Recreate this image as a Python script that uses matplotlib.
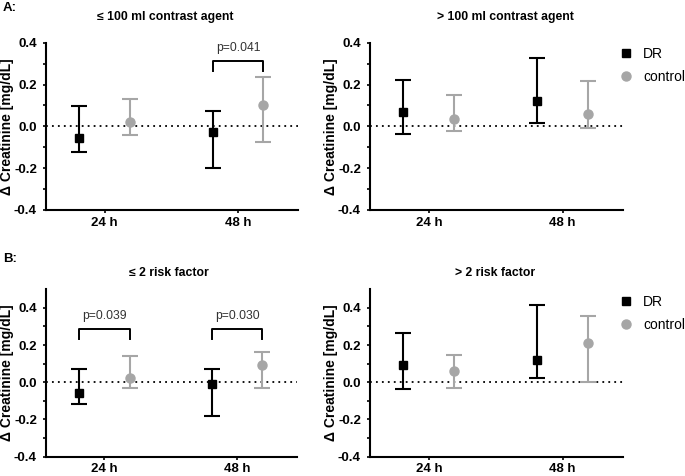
import matplotlib
matplotlib.use("Agg")
import matplotlib.pyplot as plt
from matplotlib.lines import Line2D
import numpy as np

plt.rcParams['font.family'] = ['Liberation Sans', 'DejaVu Sans']

categories = ["24 h", "48 h"]
series_names = ["DR", "control"]

# Panel A left: <= 100 ml contrast agent
a1_dr_mean = [-0.055, -0.025]
a1_dr_low = [-0.125, -0.200]
a1_dr_high = [0.097, 0.075]
a1_ct_mean = [0.020, 0.100]
a1_ct_low = [-0.040, -0.075]
a1_ct_high = [0.130, 0.235]

# Panel A right: > 100 ml contrast agent
a2_dr_mean = [0.070, 0.120]
a2_dr_low = [-0.035, 0.015]
a2_dr_high = [0.220, 0.325]
a2_ct_mean = [0.035, 0.060]
a2_ct_low = [-0.020, -0.010]
a2_ct_high = [0.148, 0.218]

# Panel B left: <= 2 risk factor
b1_dr_mean = [-0.060, -0.010]
b1_dr_low = [-0.120, -0.180]
b1_dr_high = [0.070, 0.070]
b1_ct_mean = [0.020, 0.090]
b1_ct_low = [-0.030, -0.030]
b1_ct_high = [0.140, 0.160]

# Panel B right: > 2 risk factor
b2_dr_mean = [0.090, 0.120]
b2_dr_low = [-0.035, 0.020]
b2_dr_high = [0.265, 0.415]
b2_ct_mean = [0.060, 0.210]
b2_ct_low = [-0.030, 0.000]
b2_ct_high = [0.145, 0.355]

titles = ["\u2264 100 ml contrast agent", "> 100 ml contrast agent",
          "\u2264 2 risk factor", "> 2 risk factor"]
pvals_a1 = [None, "p=0.041"]
pvals_b1 = ["p=0.039", "p=0.030"]

W, H = 685, 476
fig = plt.figure(figsize=(W / 100, H / 100), dpi=100)

def ax_at(x0, x1, ytop, ybot):
    return fig.add_axes([x0 / W, 1 - ybot / H, (x1 - x0) / W, (ybot - ytop) / H])

GRAY = "#a6a6a6"
off = 0.19

def draw(ax, dm, dl, dh, cm, cl, ch, ytop, title, title_cx, title_y, pvals, bracket_y):
    x = np.arange(len(categories))
    dm, dl, dh = map(np.array, (dm, dl, dh))
    cm, cl, ch = map(np.array, (cm, cl, ch))
    ax.axhline(0, color="black", lw=1.3, ls=(0, (1, 2.3)), zorder=1)
    ax.errorbar(x - off, dm, yerr=[dm - dl, dh - dm], fmt="s", color="black",
                ms=6.3, capsize=5.5, elinewidth=1.5, capthick=1.5, zorder=3)
    ax.errorbar(x + off, cm, yerr=[cm - cl, ch - cm], fmt="o", color=GRAY,
                ms=6.5, capsize=5.5, elinewidth=1.5, capthick=1.5, zorder=3)
    ax.set_xlim(-0.44, 1.45)
    ax.set_ylim(-0.4, ytop)
    ax.set_xticks(x)
    ax.set_xticklabels(categories, fontweight="bold", fontsize=9.5)
    ax.set_yticks([-0.4, -0.2, 0.0, 0.2, 0.4])
    ax.set_yticklabels(["-0.4", "-0.2", "0.0", "0.2", "0.4"], fontweight="bold", fontsize=9.5)
    ax.set_yticks(np.arange(-0.3, ytop, 0.2), minor=True)
    ax.tick_params(axis="both", which="major", length=2.5, width=1.2, direction="out", pad=4)
    ax.tick_params(axis="x", which="major", pad=2.5)
    ax.tick_params(axis="y", which="minor", length=2.5, width=1.2, direction="out")
    ax.spines["top"].set_visible(False)
    ax.spines["right"].set_visible(False)
    ax.spines["left"].set_linewidth(1.5)
    ax.spines["bottom"].set_linewidth(1.5)
    fig.text(title_cx / W, 1 - title_y / H, title, fontweight="bold", fontsize=8.8,
             ha="center", va="center")
    if pvals is not None:
        for i, p in enumerate(pvals):
            if p is None:
                continue
            top, leg, ty = bracket_y
            ax.plot([i - off, i - off, i + off, i + off], [leg, top, top, leg],
                    color="black", lw=1.4, zorder=2)
            ax.text(i, ty, p, ha="center", va="center", fontsize=8.7, color="#333333")
    ax.set_ylabel("\u0394 Creatinine [mg/dL]", fontweight="bold", fontsize=10)
    ax.yaxis.label.set_verticalalignment("center")
    bb = ax.get_position()
    ax.yaxis.set_label_coords(-39 / (bb.width * W), 0.5)

ax1 = ax_at(46, 298, 42.7, 210)
ax2 = ax_at(370, 622.7, 42.7, 210)
ax3 = ax_at(46, 297, 289.3, 456.5)
ax4 = ax_at(370, 622.7, 289.3, 456.5)

draw(ax1, a1_dr_mean, a1_dr_low, a1_dr_high, a1_ct_mean, a1_ct_low, a1_ct_high,
     0.4, titles[0], 165, 17, pvals_a1, (0.312, 0.264, 0.376))
draw(ax2, a2_dr_mean, a2_dr_low, a2_dr_high, a2_ct_mean, a2_ct_low, a2_ct_high,
     0.4, titles[1], 505, 17, None, None)
draw(ax3, b1_dr_mean, b1_dr_low, b1_dr_high, b1_ct_mean, b1_ct_low, b1_ct_high,
     0.5, titles[2], 169, 273, pvals_b1, (0.284, 0.231, 0.355))
draw(ax4, b2_dr_mean, b2_dr_low, b2_dr_high, b2_ct_mean, b2_ct_low, b2_ct_high,
     0.5, titles[3], 495, 273, None, None)

handles = [Line2D([], [], marker="s", ls="none", color="black", ms=6),
           Line2D([], [], marker="o", ls="none", color=GRAY, ms=6.5)]
for ytop_px in (46.5, 295):
    fig.legend(handles, series_names, loc="upper left",
               bbox_to_anchor=(618.7 / W, 1 - ytop_px / H), frameon=False,
               fontsize=10, handlelength=1.0, handletextpad=0.75, labelspacing=0.65,
               borderpad=0, borderaxespad=0)

fig.text(3 / W, 1 - 8 / H, "A:", fontweight="bold", fontsize=9.5, va="center", ha="left")
fig.text(3 / W, 1 - 259 / H, "B:", fontweight="bold", fontsize=9.5, va="center", ha="left")

fig.savefig("out.png", dpi=100)
